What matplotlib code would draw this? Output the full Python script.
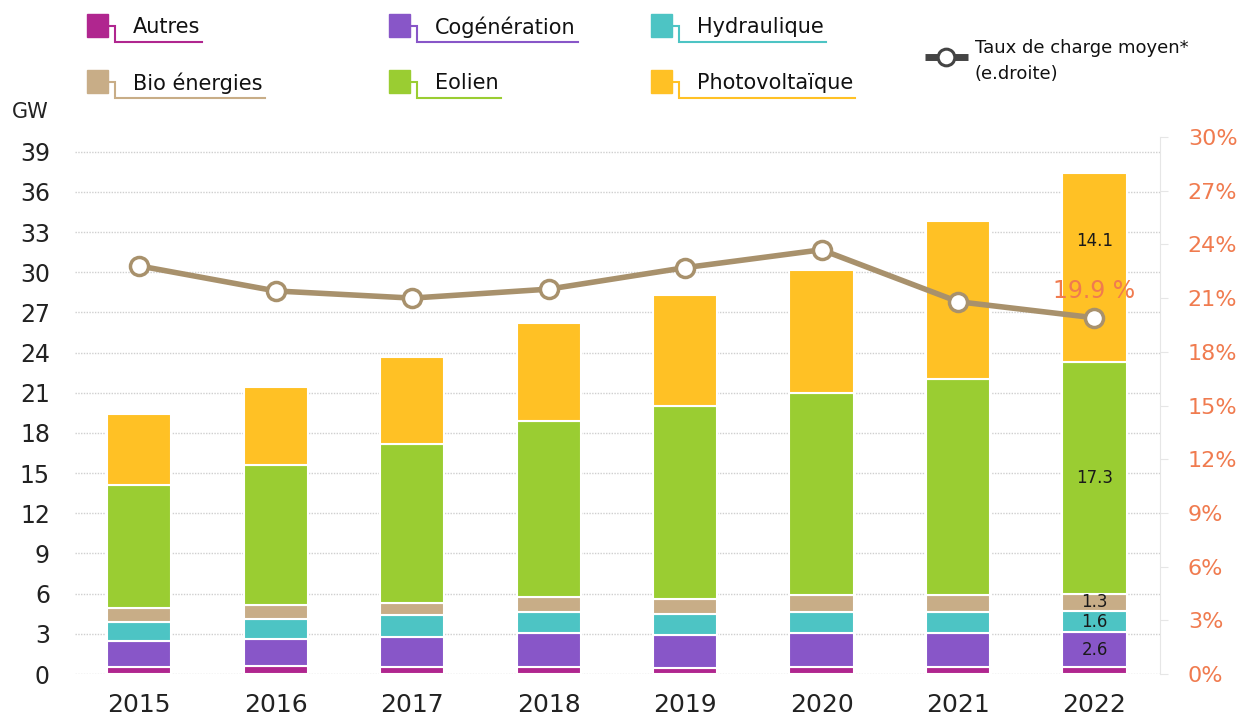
import matplotlib
matplotlib.use("Agg")
import matplotlib.pyplot as plt
import numpy as np
from matplotlib.patches import Rectangle

plt.rcParams['font.family'] = ['DejaVu Sans']

years = ["2015", "2016", "2017", "2018", "2019", "2020", "2021", "2022"]
autres = [0.5, 0.6, 0.5, 0.5, 0.45, 0.5, 0.5, 0.5]
cogeneration = [2.0, 2.0, 2.25, 2.55, 2.45, 2.55, 2.55, 2.6]
hydraulique = [1.4, 1.5, 1.65, 1.55, 1.6, 1.55, 1.55, 1.6]
bio_energies = [1.0, 1.05, 0.9, 1.15, 1.1, 1.3, 1.3, 1.3]
eolien = [9.2, 10.45, 11.9, 13.15, 14.4, 15.1, 16.15, 17.3]
photovoltaique = [5.3, 5.8, 6.5, 7.3, 8.3, 9.2, 11.8, 14.1]
taux_charge = [22.8, 21.4, 21.0, 21.5, 22.7, 23.7, 20.8, 19.9]

series_names = ["Autres", "Cogénération", "Hydraulique", "Bio énergies", "Eolien", "Photovoltaïque"]
series_values = [autres, cogeneration, hydraulique, bio_energies, eolien, photovoltaique]
colors = ["#B0268F", "#8856C8", "#4DC4C4", "#C8AD87", "#9ACD32", "#FFC125"]
line_color = "#A8916C"
orange = "#F07B4F"

W, H = 1241, 719
fig = plt.figure(figsize=(W / 100, H / 100), dpi=100)
ax = fig.add_axes([75 / W, 1 - 674 / H, (1160 - 75) / W, (674 - 137) / H])

x = np.arange(len(years))
bottom = np.zeros(len(years))
for name, vals, col in zip(series_names, series_values, colors):
    vals = np.array(vals)
    ax.bar(x, vals, width=0.47, bottom=bottom, color=col, edgecolor="white",
           linewidth=1.5, zorder=2)
    bottom += vals

# labels on the 2022 bar
last = len(years) - 1
cum = np.cumsum([v[last] for v in series_values])
starts = cum - np.array([v[last] for v in series_values])
for i in range(1, 5):
    ax.text(last, (starts[i] + cum[i]) / 2, f"{series_values[i][last]:.1f}",
            ha="center", va="center", fontsize=12, color="#1a1a1a", zorder=4)
ax.text(last, starts[5] + 0.64 * photovoltaique[last], f"{photovoltaique[last]:.1f}",
        ha="center", va="center", fontsize=12, color="#1a1a1a", zorder=4)

ax.set_xlim(-0.47, 7.48)
ax.set_ylim(0, 40.1)
ax.set_yticks(np.arange(0, 40, 3))
ax.set_xticks(x)
ax.set_xticklabels(years, fontsize=18, color="#222222")
ax.tick_params(axis="y", labelsize=17, length=0, pad=18, labelcolor="#222222")
ax.tick_params(axis="x", length=0, pad=14)
ax.grid(axis="y", linestyle=(0, (1, 1)), color="#CFCFCF", linewidth=1, zorder=0)
ax.set_axisbelow(True)
for s in ax.spines.values():
    s.set_visible(False)

ax2 = ax.twinx()
ax2.plot(x, taux_charge, color=line_color, linewidth=4, marker="o", markersize=13,
         markerfacecolor="white", markeredgecolor=line_color, markeredgewidth=2.5, zorder=5)
ax2.set_ylim(0, 30)
ax2.set_yticks(np.arange(0, 31, 3))
ax2.set_yticklabels([f"{v}%" for v in range(0, 31, 3)])
ax2.tick_params(axis="y", labelsize=16, labelcolor=orange, color="#E6E6E6", length=6, pad=14)
for k, s in ax2.spines.items():
    s.set_visible(k == "right")
ax2.spines["right"].set_color("#E6E6E6")
ax2.annotate(f"{taux_charge[last]:.1f} %", (last, taux_charge[last]), xytext=(0, 11),
             textcoords="offset points", ha="center", va="bottom", fontsize=17, color=orange)

# overlay in pixel coordinates for legend and unit label
ov = fig.add_axes([0, 0, 1, 1], facecolor="none")
ov.set_xlim(0, W)
ov.set_ylim(H, 0)
ov.axis("off")

ov.text(12, 112, "GW", fontsize=15, va="center", ha="left", color="#222222")

col_x = [87, 389, 651]
row_y = [14, 70]
renderer = fig.canvas.get_renderer()
for i, (name, col) in enumerate(zip(series_names, colors)):
    cx = col_x[i % 3]
    ry = row_y[i // 3]
    ov.add_patch(Rectangle((cx, ry), 21, 23, color=col))
    t = ov.text(cx + 46, ry + 13, name, fontsize=15, va="center", ha="left", color="#111111")
    bb = t.get_window_extent(renderer)
    end_x = bb.x1 + 2
    ov.plot([cx + 21, cx + 28, cx + 28, end_x], [ry + 12, ry + 12, ry + 28, ry + 28],
            color=col, linewidth=1.5, solid_joinstyle="miter")

ov.plot([925, 968], [57, 57], color="#444444", linewidth=5, solid_capstyle="butt")
ov.plot([946], [57], marker="o", markersize=12, markerfacecolor="white",
        markeredgecolor="#444444", markeredgewidth=2.2)
ov.text(975, 48, "Taux de charge moyen*", fontsize=13, va="center", ha="left", color="#111111")
ov.text(975, 74, "(e.droite)", fontsize=13, va="center", ha="left", color="#111111")

fig.savefig("out.png", dpi=100)
